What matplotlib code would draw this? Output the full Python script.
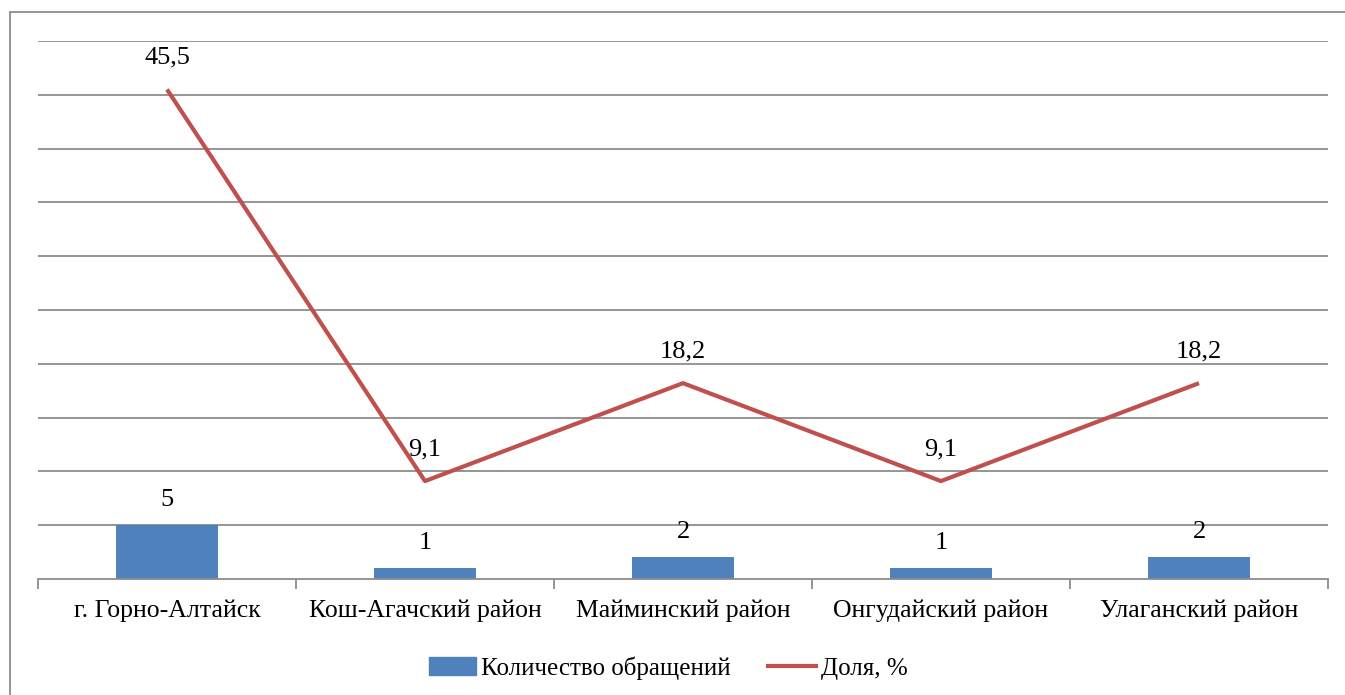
import matplotlib
matplotlib.use("Agg")
import matplotlib.pyplot as plt
from matplotlib.patches import Rectangle
from matplotlib.lines import Line2D
import numpy as np

categories = ["г. Горно-Алтайск", "Кош-Агачский район", "Майминский район",
              "Онгудайский район", "Улаганский район"]
counts = [5, 1, 2, 1, 2]
shares = [45.5, 9.1, 18.2, 9.1, 18.2]
share_labels = ["45,5", "9,1", "18,2", "9,1", "18,2"]

plt.rcParams['font.family'] = ['Liberation Serif', 'DejaVu Serif']

W, H = 1345, 695
FS = 19
fig = plt.figure(figsize=(W/100, H/100), dpi=100)
ax = fig.add_axes([38/W, 1-579/H, (1328-38)/W, (579-41)/H])

x = np.arange(len(categories))
bar_color = "#4F81BD"
line_color = "#C0504D"
grid_color = "#8C8C8C"

ax.bar(x, counts, width=0.395, color=bar_color, zorder=2)
ax.plot(x, shares, color=line_color, lw=3, zorder=3, solid_capstyle='butt')

for xi, c in zip(x, counts):
    ax.annotate(str(c), (xi, c), xytext=(0, 18), textcoords='offset points',
                ha='center', va='center', fontsize=FS)
for xi, s, lab in zip(x, shares, share_labels):
    ax.annotate(lab, (xi, s), xytext=(0, 23), textcoords='offset points',
                ha='center', va='center', fontsize=FS)

ax.set_xlim(-0.5, len(categories)-0.5)
ax.set_ylim(0, 50)
ax.set_yticks([])
for yv in np.arange(5, 51, 5):
    ax.axhline(yv, color=grid_color, lw=1.3, zorder=1)

for side in ['top', 'right', 'left']:
    ax.spines[side].set_visible(False)
ax.spines['bottom'].set_color(grid_color)
ax.spines['bottom'].set_linewidth(1.3)

ax.set_xticks(x)
ax.set_xticklabels(categories, fontsize=18.5)
ax.tick_params(axis='x', length=0, pad=15)
ax.set_xticks(np.arange(-0.5, len(categories)), minor=True)
ax.tick_params(axis='x', which='minor', length=7, width=1.3, color=grid_color)

handles = [Rectangle((0, 0), 1, 1, color=bar_color),
           Line2D([0], [0], color=line_color, lw=3)]
fig.legend(handles, ["Количество обращений", "Доля, %"], loc='center',
           bbox_to_anchor=(668/W, 1-668/H), ncol=2, frameon=False, fontsize=18,
           handlelength=1.9, handletextpad=0.2, columnspacing=1.5)

border = Rectangle((9.5/W, -0.1), 1.2, 1.1-12.5/H, transform=fig.transFigure,
                   fill=False, edgecolor="#8C8C8C", lw=1.3)
fig.patches.append(border)

fig.savefig("out.png", dpi=100)
